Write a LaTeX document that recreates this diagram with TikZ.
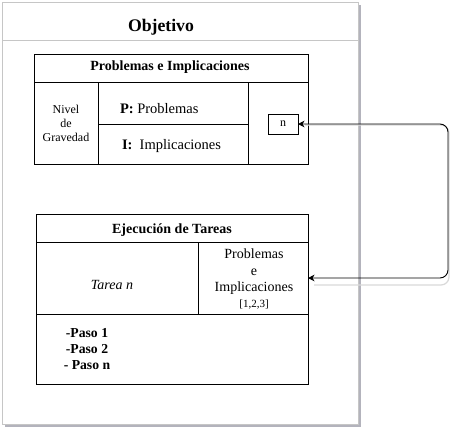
\documentclass[tikz,border=0pt]{standalone}
\usepackage{fontspec}
\setmainfont{Liberation Serif}
\usetikzlibrary{arrows.meta}
\begin{document}
\begin{tikzpicture}[x=1pt,y=-1pt,
  cell/.style={draw=black,line width=0.9pt,inner sep=0pt,outer sep=0pt,anchor=north west},
  txt/.style={inner sep=0pt,outer sep=0pt,text=black},
  link/.style={draw=black,line width=0.9pt,rounded corners=8pt,{Stealth[length=6.5pt,width=6.5pt,inset=2pt]}-{Stealth[length=6.5pt,width=6.5pt,inset=2pt]}}
]
\useasboundingbox (0,0) rectangle (466,432);
\fill[white] (0,0) rectangle (466,432);
% outer frame with shadow
\fill[black!25!blue!8!gray!55] (5,5) rectangle (361,427);
\node[cell,draw=gray!45,fill=white,minimum width=356pt,minimum height=422pt] (frame) at (2,2) {};
\draw[gray!45,line width=0.8pt] (2,40) -- (358,40);
\node[txt,font=\fontsize{17.7}{20}\selectfont\bfseries] (title) at (161,27) {Objetivo};

% box 1
\node[cell,minimum width=274pt,minimum height=28pt] (h1) at (34,54) {};
\node[txt,font=\fontsize{14}{16}\selectfont\bfseries] at (170,67) {Problemas e Implicaciones};
\node[cell,minimum width=64pt,minimum height=82pt,align=center,font=\fontsize{12}{14}\selectfont] (niv) at (34,82) {Nivel\\de\\Gravedad};
\node[cell,minimum width=150pt,minimum height=42pt] (pc) at (98,82) {};
\node[cell,minimum width=150pt,minimum height=40pt] (ic) at (98,124) {};
\node[cell,minimum width=60pt,minimum height=82pt] (rc) at (248,82) {};
\node[txt,anchor=west,font=\fontsize{14.5}{16}\selectfont] (ptxt) at (120,109) {\textbf{P:} Problemas};
\node[txt,anchor=west,font=\fontsize{14.5}{16}\selectfont] (itxt) at (122,146) {\textbf{I:}\ \ Implicaciones};
\node[cell,minimum width=30pt,minimum height=20pt,font=\fontsize{12}{13}\selectfont] (nbox) at (268,114) {n};

% box 2
\node[cell,minimum width=272pt,minimum height=28pt] (h2) at (36,214) {};
\node[txt,font=\fontsize{14}{16}\selectfont\bfseries] at (172,230) {Ejecución de Tareas};
\node[cell,minimum width=162pt,minimum height=72pt] (tc) at (36,242) {};
\node[txt,font=\fontsize{14}{16}\selectfont\itshape] at (112,285) {Tarea n};
\node[cell,minimum width=110pt,minimum height=72pt] (pe) at (198,242) {};
\node[txt,align=center,font=\fontsize{14}{16.5}\selectfont] at (254,279) {Problemas\\e\\Implicaciones\\[-1pt]{\fontsize{11}{13}\selectfont[1,2,3]}};
\node[cell,minimum width=272pt,minimum height=70pt] (bc) at (36,314) {};
\node[txt,align=center,font=\fontsize{13.7}{16}\selectfont\bfseries] at (87,349) {-Paso 1\\-Paso 2\\- Paso n};

% connector
\coordinate (c1) at (448,124);
\draw[gray!30,line width=1.2pt,rounded corners=8pt] (305,125) -- (449,125) -- (449,285) -- (314,285);
\draw[link] (nbox.east) -- (c1) |- (pe.east);
\end{tikzpicture}
\end{document}
